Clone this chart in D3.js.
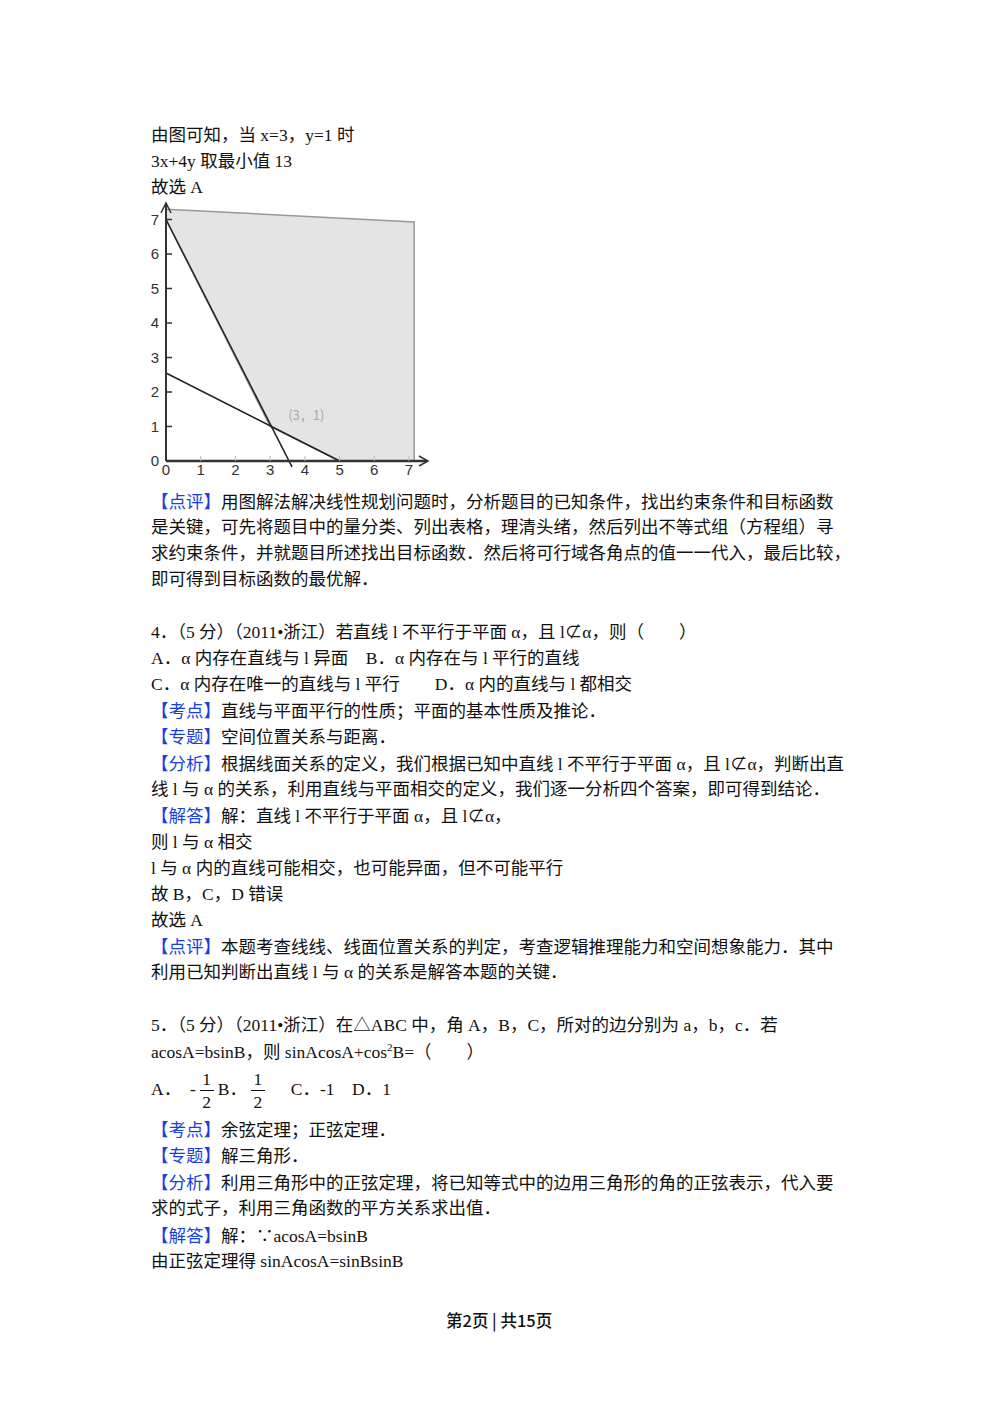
<!DOCTYPE html>
<html><head><meta charset="utf-8">
<script src="https://cdn.jsdelivr.net/npm/d3@7"></script>
<style>
body{margin:0;background:#fff;}
#page{position:relative;width:1000px;height:1414px;font-family:"Liberation Serif","Noto Sans CJK SC",serif;font-size:17.5px;color:#111;}
.ln{position:absolute;left:151px;white-space:pre;line-height:22px;}
.b{color:#1a3fe0;font-family:"Noto Sans CJK SC";}
.sp{font-size:11px;position:relative;top:-7px;line-height:0;}
.fr{display:inline-block;vertical-align:middle;text-align:center;line-height:22px;margin:0 4px;width:14px;}
.fr span{display:block;}
.fr .n{border-bottom:1.5px solid #111;line-height:21px;}
#chart{position:absolute;left:140px;top:195px;}
</style></head><body>
<div id="page">
<svg id="chart" width="300" height="285"></svg>
</div>
<script>
// text lines: [center y, html]
var lines = [
  [135, '由图可知，当 x=3，y=1 时'],
  [161, '3x+4y 取最小值 13'],
  [187, '故选 A'],
  [501, '<span class="b">【点评】</span>用图解法解决线性规划问题时，分析题目的已知条件，找出约束条件和目标函数'],
  [527, '是关键，可先将题目中的量分类、列出表格，理清头绪，然后列出不等式组（方程组）寻'],
  [553, '求约束条件，并就题目所述找出目标函数．然后将可行域各角点的值一一代入，最后比较，'],
  [579, '即可得到目标函数的最优解．'],
  [632, '4．（5 分）（2011•浙江）若直线 l 不平行于平面 α，且 l⊄α，则（　　）'],
  [658, 'A．α 内存在直线与 l 异面　B．α 内存在与 l 平行的直线'],
  [684, 'C．α 内存在唯一的直线与 l 平行　　D．α 内的直线与 l 都相交'],
  [710, '<span class="b">【考点】</span>直线与平面平行的性质；平面的基本性质及推论．'],
  [736, '<span class="b">【专题】</span>空间位置关系与距离．'],
  [763, '<span class="b">【分析】</span>根据线面关系的定义，我们根据已知中直线 l 不平行于平面 α，且 l⊄α，判断出直'],
  [789, '线 l 与 α 的关系，利用直线与平面相交的定义，我们逐一分析四个答案，即可得到结论．'],
  [815, '<span class="b">【解答】</span>解：直线 l 不平行于平面 α，且 l⊄α，'],
  [842, '则 l 与 α 相交'],
  [868, 'l 与 α 内的直线可能相交，也可能异面，但不可能平行'],
  [894, '故 B，C，D 错误'],
  [920, '故选 A'],
  [946, '<span class="b">【点评】</span>本题考查线线、线面位置关系的判定，考查逻辑推理能力和空间想象能力．其中'],
  [972, '利用已知判断出直线 l 与 α 的关系是解答本题的关键．'],
  [1025, '5．（5 分）（2011•浙江）在△ABC 中，角 A，B，C，所对的边分别为 a，b，c．若'],
  [1052, 'acosA=bsinB，则 sinAcosA+cos<span class="sp">2</span>B=（　　）'],
  [1091, 'A．  -<span class="fr"><span class="n">1</span><span>2</span></span>B．<span class="fr"><span class="n">1</span><span>2</span></span>　 C．-1　D．1'],
  [1129, '<span class="b">【考点】</span>余弦定理；正弦定理．'],
  [1155, '<span class="b">【专题】</span>解三角形．'],
  [1182, '<span class="b">【分析】</span>利用三角形中的正弦定理，将已知等式中的边用三角形的角的正弦表示，代入要'],
  [1208, '求的式子，利用三角函数的平方关系求出值．'],
  [1235, '<span class="b">【解答】</span>解：∵acosA=bsinB'],
  [1261, '由正弦定理得 sinAcosA=sinBsinB']
];
var page = d3.select('#page');
page.selectAll('div.ln').data(lines).enter().append('div')
  .attr('class', 'ln')
  .style('top', function(d) { return (d[0] - (d[0] === 1091 ? 22 : 11)) + 'px'; })
  .html(function(d) { return d[1]; });
page.append('div').attr('class', 'ln')
  .style('left', '446px').style('top', '1309px').style('font-size', '16.5px')
  .style('font-family', '"Noto Sans CJK SC"').style('font-weight', '500')
  .text('第2页 | 共15页');

// chart data
var xTicks = [0, 1, 2, 3, 4, 5, 6, 7];
var yTicks = [0, 1, 2, 3, 4, 5, 6, 7];
var region = [[0, 7.3], [7.15, 6.93], [7.15, 0], [5, 0], [3, 1], [0, 7]];
var line1 = [[0, 7], [3.63, -0.17]];   // 2x+y=7
var line2 = [[0, 2.55], [5, 0]];       // x+2y=5
var point = {x: 3, y: 1, label: '(3，1)'};

var svg = d3.select('#chart');
var x = d3.scaleLinear().domain([0, 7]).range([26, 269]);
var y = d3.scaleLinear().domain([0, 7]).range([266, 24.5]);
var line = d3.line().x(function(d) { return x(d[0]); }).y(function(d) { return y(d[1]); });

svg.append('path').attr('d', line(region) + 'Z')
  .attr('fill', '#e4e4e4').attr('stroke', '#999').attr('stroke-width', 1.5);

[line1, line2].forEach(function(l) {
  svg.append('path').attr('d', line(l)).attr('stroke', '#222').attr('stroke-width', 1.5).attr('fill', 'none');
});

// axes
svg.append('line').attr('x1', x(0)).attr('x2', 287).attr('y1', y(0)).attr('y2', y(0))
  .attr('stroke', '#333').attr('stroke-width', 2.5);
svg.append('line').attr('x1', x(0)).attr('x2', x(0)).attr('y1', y(0)).attr('y2', 8)
  .attr('stroke', '#333').attr('stroke-width', 2);
svg.append('path').attr('d', 'M' + (x(0) - 5) + ',18L' + x(0) + ',8L' + (x(0) + 5) + ',18')
  .attr('fill', 'none').attr('stroke', '#333').attr('stroke-width', 1.5);
svg.append('path').attr('d', 'M279,' + (y(0) - 5) + 'L288,' + y(0) + 'L279,' + (y(0) + 5))
  .attr('fill', 'none').attr('stroke', '#333').attr('stroke-width', 1.5);

svg.selectAll('.yt').data(yTicks.slice(1)).enter().append('line')
  .attr('x1', x(0)).attr('x2', x(0) + 6).attr('y1', y).attr('y2', y)
  .attr('stroke', '#333').attr('stroke-width', 1.5);
svg.selectAll('.xt').data(xTicks.slice(1)).enter().append('line')
  .attr('x1', x).attr('x2', x).attr('y1', y(0)).attr('y2', y(0) - 5)
  .attr('stroke', '#bbb').attr('stroke-width', 1);

var tf = 'Liberation Sans, Arial, sans-serif';
svg.selectAll('.yl').data(yTicks).enter().append('text')
  .attr('x', 19).attr('y', function(d) { return y(d) + 5; })
  .attr('text-anchor', 'end').attr('font-family', tf).attr('font-size', 15).attr('fill', '#333')
  .text(function(d) { return d; });
svg.selectAll('.xl').data(xTicks).enter().append('text')
  .attr('x', function(d) { return x(d); }).attr('y', y(0) + 14)
  .attr('text-anchor', 'middle').attr('font-family', tf).attr('font-size', 15).attr('fill', '#333')
  .text(function(d) { return d; });

svg.append('text').attr('x', x(point.x) + 18).attr('y', y(point.y) - 7)
  .attr('font-family', '"Noto Sans CJK SC"').attr('font-size', 13).attr('fill', '#aaa')
  .text(point.label);
</script>
</body></html>
